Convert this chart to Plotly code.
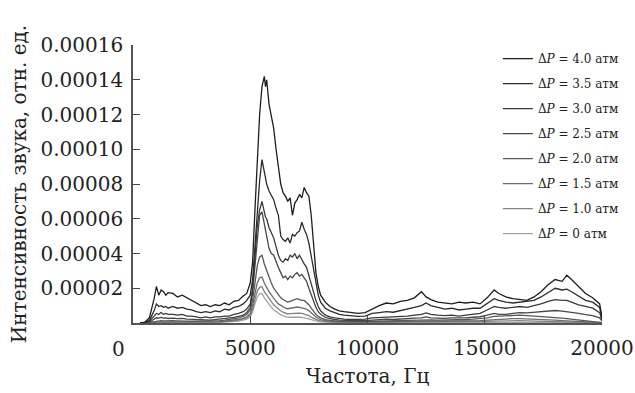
import plotly.graph_objects as go

# Frequency grid, Hz
freq = [300, 500, 700, 800, 900, 1000, 1100, 1200, 1300, 1400, 1500, 1700, 1900, 2100, 2300, 2500,
        2700, 2900, 3100, 3300, 3500, 3700, 3900, 4100, 4300, 4500, 4700, 4850, 5000, 5100, 5200,
        5300, 5400, 5500, 5600, 5650, 5700, 5800, 5900, 6000, 6100, 6200, 6300, 6400, 6500, 6600,
        6700, 6800, 6900, 7000, 7100, 7200, 7300, 7400, 7500, 7600, 7700, 7800, 7900, 8000, 8200,
        8400, 8600, 8800, 9000, 9300, 9600, 9900, 10200, 10500, 10800, 11100, 11400, 11700, 12000,
        12300, 12500, 12700, 13000, 13300, 13600, 13900, 14200, 14500, 14800, 15100, 15400, 15600,
        15900, 16200, 16500, 16800, 17100, 17400, 17700, 18000, 18300, 18500, 18700, 19000, 19300,
        19600, 19900, 20000]

# Intensities in units of 1e-5 (rel. units)
p40 = [0, 0.05, 0.3, 0.8, 1.4, 2.1, 1.6, 1.9, 1.8, 1.6, 1.75, 1.7, 1.5, 1.6, 1.45, 1.3,
       1.15, 1.0, 1.05, 0.95, 1.05, 1.0, 1.15, 1.05, 1.25, 1.3, 1.55, 1.7, 2.3, 3.5, 6.5,
       9.5, 12.0, 13.6, 14.2, 13.6, 14.0, 12.6, 11.8, 11.2, 10.0, 8.9, 8.0, 7.5, 7.3, 7.0,
       7.2, 6.2, 6.9, 7.1, 7.4, 7.2, 7.8, 7.5, 7.3, 6.2, 4.3, 2.9, 2.1, 1.6, 1.2,
       0.95, 0.8, 0.7, 0.65, 0.6, 0.55, 0.6, 0.8, 1.0, 1.15, 1.1, 1.25, 1.3, 1.45,
       1.8, 1.5, 1.35, 1.2, 1.15, 1.1, 1.2, 1.15, 1.2, 1.1, 1.45, 1.9, 1.7,
       1.5, 1.4, 1.35, 1.3, 1.5, 1.8, 2.2, 2.5, 2.4, 2.75, 2.5, 2.1, 1.7,
       1.45, 1.1, 0.3]
p35 = [0, 0.02, 0.15, 0.4, 0.7, 1.1, 0.95, 1.0, 0.9, 0.95, 0.85, 0.95, 0.85, 0.9, 0.8, 0.75,
       0.65, 0.6, 0.65, 0.6, 0.7, 0.65, 0.8, 0.75, 0.9, 0.95, 1.1, 1.3, 1.6, 2.5, 4.5,
       6.8, 8.2, 9.4, 8.6, 8.2, 8.0, 7.6, 7.3, 7.1, 6.6, 6.2, 5.0, 4.8, 4.7, 4.9,
       4.6, 5.1, 5.0, 5.2, 5.3, 5.8, 5.4, 5.1, 4.6, 3.8, 3.0, 2.2, 1.6, 1.2, 0.85,
       0.7, 0.6, 0.5, 0.45, 0.4, 0.38, 0.4, 0.55, 0.6, 0.65, 0.62, 0.7, 0.8, 0.9,
       1.0, 1.15, 1.0, 0.9, 0.8, 0.85, 0.75, 0.8, 0.85, 0.85, 1.1, 1.4, 1.3,
       1.2, 1.15, 1.2, 1.25, 1.3, 1.5, 1.75, 2.0, 1.9, 1.95, 1.8, 1.55, 1.3,
       1.2, 0.9, 0.2]
p30 = [0, 0.01, 0.1, 0.25, 0.4, 0.55, 0.5, 0.6, 0.5, 0.55, 0.5, 0.5, 0.45, 0.5, 0.4, 0.4,
       0.35, 0.3, 0.35, 0.3, 0.35, 0.35, 0.4, 0.4, 0.5, 0.55, 0.65, 0.8, 1.1, 2.0, 3.8,
       5.6, 6.5, 7.0, 6.4, 6.1, 6.0, 5.5, 5.2, 4.9, 4.4, 3.9, 3.6, 3.5, 3.7, 3.6,
       3.9, 3.8, 4.0, 3.7, 3.9, 3.6, 3.4, 3.2, 2.7, 2.2, 1.7, 1.3, 0.95, 0.7, 0.45,
       0.35, 0.3, 0.25, 0.22, 0.2, 0.2, 0.22, 0.3, 0.32, 0.35, 0.33, 0.38, 0.4, 0.45,
       0.5, 0.58, 0.5, 0.45, 0.42, 0.45, 0.4, 0.45, 0.5, 0.55, 0.75, 0.95, 0.9,
       0.85, 0.9, 0.95, 0.9, 1.0, 1.1, 1.25, 1.35, 1.3, 1.3, 1.2, 1.05, 0.95,
       0.85, 0.6, 0.15]
p25 = [0, 0, 0.05, 0.12, 0.2, 0.3, 0.28, 0.32, 0.28, 0.3, 0.26, 0.28, 0.25, 0.27, 0.22, 0.2,
       0.18, 0.17, 0.18, 0.17, 0.2, 0.2, 0.25, 0.27, 0.32, 0.38, 0.45, 0.6, 0.9, 1.8, 3.4,
       5.0, 6.2, 6.4, 5.6, 5.3, 5.0, 4.3, 4.0, 3.9, 3.5, 3.2, 2.9, 2.6, 2.7, 2.5,
       2.7, 2.6, 2.8, 2.9, 2.7, 2.8, 2.6, 2.4, 2.0, 1.6, 1.2, 0.9, 0.65, 0.5, 0.32,
       0.25, 0.2, 0.17, 0.15, 0.14, 0.13, 0.14, 0.18, 0.2, 0.22, 0.2, 0.24, 0.25, 0.28,
       0.3, 0.35, 0.3, 0.28, 0.27, 0.3, 0.28, 0.3, 0.33, 0.36, 0.45, 0.55, 0.5,
       0.5, 0.55, 0.6, 0.58, 0.62, 0.65, 0.7, 0.72, 0.68, 0.65, 0.6, 0.55, 0.48,
       0.42, 0.3, 0.1]
p20 = [0, 0, 0.02, 0.05, 0.08, 0.12, 0.12, 0.14, 0.12, 0.13, 0.12, 0.13, 0.12, 0.13, 0.11, 0.1,
       0.1, 0.1, 0.11, 0.11, 0.13, 0.14, 0.17, 0.2, 0.25, 0.3, 0.38, 0.5, 0.75, 1.3, 2.3,
       3.3, 3.8, 3.9, 3.4, 3.2, 3.0, 2.6, 2.3, 2.0, 1.8, 1.6, 1.45, 1.35, 1.25, 1.2,
       1.25, 1.3, 1.35, 1.4, 1.35, 1.3, 1.3, 1.2, 1.05, 0.85, 0.65, 0.5, 0.38, 0.3, 0.2,
       0.15, 0.12, 0.1, 0.09, 0.08, 0.08, 0.08, 0.1, 0.12, 0.13, 0.12, 0.14, 0.15, 0.17,
       0.18, 0.2, 0.18, 0.17, 0.17, 0.18, 0.18, 0.2, 0.22, 0.25, 0.3, 0.38, 0.4,
       0.42, 0.44, 0.45, 0.42, 0.4, 0.38, 0.35, 0.32, 0.28, 0.25, 0.22, 0.18, 0.14,
       0.1, 0.07, 0.02]
p15 = [0, 0, 0.01, 0.02, 0.04, 0.06, 0.06, 0.07, 0.06, 0.06, 0.06, 0.06, 0.06, 0.06, 0.05, 0.05,
       0.05, 0.05, 0.06, 0.06, 0.07, 0.08, 0.1, 0.12, 0.15, 0.2, 0.27, 0.36, 0.55, 1.0, 1.7,
       2.3, 2.6, 2.65, 2.3, 2.2, 2.05, 1.8, 1.6, 1.4, 1.25, 1.1, 1.0, 0.92, 0.85, 0.82,
       0.85, 0.88, 0.9, 0.92, 0.9, 0.88, 0.86, 0.8, 0.7, 0.56, 0.44, 0.34, 0.26, 0.2, 0.13,
       0.1, 0.08, 0.07, 0.06, 0.05, 0.05, 0.05, 0.06, 0.07, 0.08, 0.08, 0.09, 0.1, 0.1,
       0.11, 0.12, 0.11, 0.1, 0.1, 0.11, 0.11, 0.12, 0.13, 0.14, 0.17, 0.2, 0.22,
       0.24, 0.25, 0.25, 0.24, 0.22, 0.2, 0.18, 0.16, 0.14, 0.12, 0.11, 0.09, 0.07,
       0.05, 0.04, 0.01]
p10 = [0, 0, 0, 0.01, 0.02, 0.03, 0.03, 0.03, 0.03, 0.03, 0.03, 0.03, 0.03, 0.03, 0.03, 0.03,
       0.03, 0.03, 0.04, 0.04, 0.05, 0.06, 0.07, 0.09, 0.12, 0.16, 0.22, 0.3, 0.45, 0.8, 1.35,
       1.85, 2.05, 2.1, 1.8, 1.7, 1.6, 1.4, 1.2, 1.05, 0.92, 0.8, 0.7, 0.62, 0.56, 0.52,
       0.54, 0.55, 0.57, 0.58, 0.56, 0.55, 0.52, 0.48, 0.42, 0.34, 0.26, 0.2, 0.15, 0.12, 0.08,
       0.06, 0.05, 0.04, 0.04, 0.03, 0.03, 0.03, 0.04, 0.04, 0.05, 0.05, 0.05, 0.06, 0.06,
       0.07, 0.07, 0.07, 0.06, 0.06, 0.07, 0.07, 0.07, 0.08, 0.08, 0.1, 0.11, 0.12,
       0.13, 0.13, 0.13, 0.12, 0.11, 0.1, 0.09, 0.08, 0.07, 0.06, 0.05, 0.04, 0.03,
       0.03, 0.02, 0]
p00 = [0, 0, 0, 0, 0.01, 0.01, 0.01, 0.01, 0.01, 0.01, 0.01, 0.01, 0.01, 0.01, 0.01, 0.01,
       0.01, 0.02, 0.02, 0.02, 0.03, 0.04, 0.05, 0.06, 0.08, 0.11, 0.16, 0.22, 0.35, 0.65, 1.1,
       1.5, 1.68, 1.7, 1.45, 1.35, 1.25, 1.05, 0.9, 0.76, 0.65, 0.55, 0.47, 0.41, 0.36, 0.33,
       0.33, 0.34, 0.35, 0.35, 0.34, 0.33, 0.31, 0.28, 0.24, 0.2, 0.15, 0.11, 0.08, 0.06, 0.04,
       0.03, 0.02, 0.02, 0.02, 0.02, 0.02, 0.02, 0.02, 0.02, 0.03, 0.03, 0.03, 0.03, 0.03,
       0.03, 0.04, 0.04, 0.03, 0.03, 0.03, 0.03, 0.04, 0.04, 0.04, 0.05, 0.05, 0.06,
       0.06, 0.06, 0.06, 0.06, 0.05, 0.05, 0.05, 0.04, 0.04, 0.03, 0.03, 0.03, 0.02,
       0.02, 0.01, 0]

series = [p40, p35, p30, p25, p20, p15, p10, p00]
names = ["Δ<i>P</i> = 4.0 атм", "Δ<i>P</i> = 3.5 атм", "Δ<i>P</i> = 3.0 атм", "Δ<i>P</i> = 2.5 атм",
         "Δ<i>P</i> = 2.0 атм", "Δ<i>P</i> = 1.5 атм", "Δ<i>P</i> = 1.0 атм", "Δ<i>P</i> = 0 атм"]
colors = ["#1e1e1e", "#2c2c2c", "#3a3a3a", "#484848", "#585858", "#6c6c6c", "#828282", "#a2a2a2"]

x_ticks = [5000, 10000, 15000, 20000]
y_ticks = [0.00002, 0.00004, 0.00006, 0.00008, 0.00010, 0.00012, 0.00014, 0.00016]
y_ticktext = ["0.00002", "0.00004", "0.00006", "0.00008", "0.00010", "0.00012", "0.00014", "0.00016"]

FONT = "DejaVu Serif"

fig = go.Figure()
# draw lightest first so darker curves stay on top; legend ordered by rank
for i in reversed(range(len(series))):
    fig.add_trace(go.Scatter(x=freq, y=[v * 1e-5 for v in series[i]], mode="lines", name=names[i],
                             line=dict(color=colors[i], width=1.3), legendgroup=names[i],
                             legendrank=i + 1))

fig.update_layout(
    width=635, height=393,
    margin=dict(l=133, r=33, t=45, b=70, autoexpand=False),
    paper_bgcolor="white", plot_bgcolor="white",
    font=dict(family=FONT, color="#222222", size=20),
    showlegend=True,
    legend=dict(x=0.778, y=1.003, xanchor="left", yanchor="top", traceorder="grouped",
                font=dict(family=FONT, size=12, color="#222222"), bgcolor="rgba(0,0,0,0)",
                tracegroupgap=6, itemwidth=30, maxheight=360),
    xaxis=dict(range=[0, 20000], tickvals=x_ticks, ticktext=[str(t) for t in x_ticks],
               ticks="inside", ticklen=7, tickcolor="#444", tickwidth=1.2,
               showline=True, linecolor="#555", linewidth=1.5, showgrid=False, zeroline=False,
               tickfont=dict(family=FONT, size=20, color="#222"),
               ticklabelstandoff=6, automargin=False,
               title=dict(text="Частота, Гц", font=dict(family=FONT, size=20, color="#222"), standoff=10)),
    yaxis=dict(range=[0, 0.00016], tickvals=y_ticks, ticktext=y_ticktext,
               ticks="inside", ticklen=7, tickcolor="#444", tickwidth=1.2,
               showline=True, linecolor="#555", linewidth=1.5, showgrid=False, zeroline=False,
               tickfont=dict(family=FONT, size=20, color="#222"),
               ticklabelstandoff=4, automargin=False,
               title=dict(text="Интенсивность звука, отн. ед.", font=dict(family=FONT, size=20, color="#222"), standoff=9)),
)

fig.add_annotation(x=0, y=0, xref="x", yref="paper", text="0", showarrow=False,
                   xanchor="center", yanchor="middle",
                   xshift=-15, yshift=-26, font=dict(family=FONT, size=20, color="#222"))

fig.write_html("out.html", config={"displayModeBar": False},
               post_script="document.body.style.margin='0';")
